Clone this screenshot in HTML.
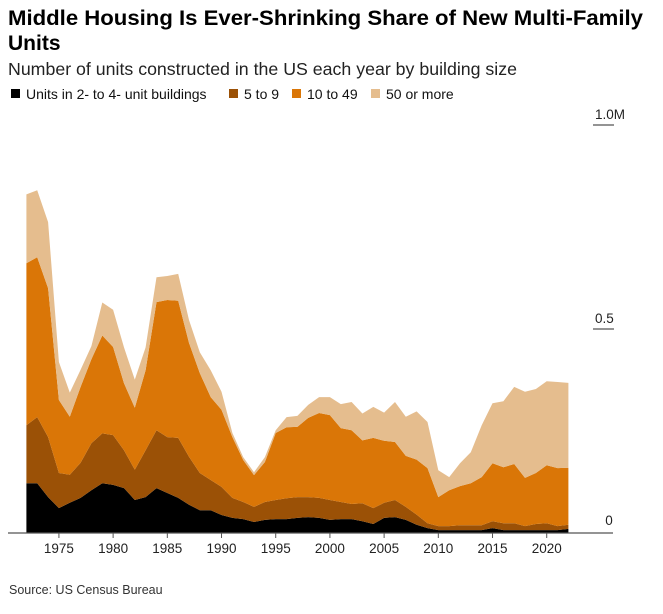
<!DOCTYPE html>
<html><head><meta charset="utf-8"><style>
body{margin:0;background:#fff;font-family:"Liberation Sans",Arial,sans-serif;}
#wrap{position:relative;width:663px;height:614px;overflow:hidden;}
</style></head><body>
<div id="wrap">
<svg id="chart" width="663" height="614">
<text x="8" y="25" font-size="21" font-weight="bold" fill="#000" textLength="635" lengthAdjust="spacingAndGlyphs">Middle Housing Is Ever-Shrinking Share of New Multi-Family</text>
<text x="8" y="50" font-size="21" font-weight="bold" fill="#000">Units</text>
<text x="8" y="75" font-size="17.5" fill="#222" textLength="509" lengthAdjust="spacingAndGlyphs">Number of units constructed in the US each year by building size</text>
<g id="legend"></g>
<g id="areas"></g>
<g id="axes"></g>
<text x="9" y="594" font-size="12.5" fill="#333">Source: US Census Bureau</text>
</svg>
</div>
<script>
const years=[1972,1973,1974,1975,1976,1977,1978,1979,1980,1981,1982,1983,1984,1985,1986,1987,1988,1989,1990,1991,1992,1993,1994,1995,1996,1997,1998,1999,2000,2001,2002,2003,2004,2005,2006,2007,2008,2009,2010,2011,2012,2013,2014,2015,2016,2017,2018,2019,2020,2021,2022];
const units2to4=[122,122,88,61,74,86,105,122,118,110,81,88,110,98,86,69,56,56,44,37,34,27,32,34,34,37,39,37,32,34,34,29,22,37,39,32,20,12,7,7,7,7,7,12,7,7,7,7,7,7,10];
const units5to9=[142,162,147,86,69,86,115,122,122,93,74,115,142,137,147,118,91,74,69,49,42,37,44,47,51,51,49,49,49,42,37,44,39,37,42,32,25,12,10,10,12,12,12,17,17,17,10,15,17,10,10];
const units10to49=[397,392,365,179,142,186,206,240,216,164,152,196,314,336,336,279,245,203,189,149,103,78,98,164,174,172,194,208,208,181,181,154,172,152,142,125,135,135,71,88,96,103,118,142,137,145,118,125,142,142,140];
const units50plus=[169,164,162,93,59,42,32,81,91,88,69,56,61,59,66,56,51,66,44,10,7,7,12,7,25,27,32,39,44,59,69,66,76,69,98,96,118,113,66,32,56,76,127,147,162,189,211,206,206,211,208];
const xTicks=[1975,1980,1985,1990,1995,2000,2005,2010,2015,2020];
const yTicks=[0,500,1000];
const yTickLabels=["0","0.5","1.0M"];
const seriesNames=["Units in 2- to 4- unit buildings","5 to 9","10 to 49","50 or more"];
const colors=["#000000","#9b5106","#da7607","#e5bd8e"];
const NS="http://www.w3.org/2000/svg";
const xScale=y=>26.4+(y-1972)*10.84;
const yScale=v=>533-v*0.408;
function mk(tag,attrs,parent){const e=document.createElementNS(NS,tag);for(const k in attrs)e.setAttribute(k,attrs[k]);parent.appendChild(e);return e;}
const series=[units2to4,units5to9,units10to49,units50plus];
const areas=document.getElementById('areas');
let base=years.map(()=>0);
series.forEach((s,i)=>{
  const top=base.map((b,j)=>b+s[j]);
  let d=years.map((y,j)=>(j?'L':'M')+xScale(y).toFixed(1)+','+yScale(top[j]).toFixed(1)).join('');
  for(let j=years.length-1;j>=0;j--)d+='L'+xScale(years[j]).toFixed(1)+','+yScale(base[j]).toFixed(1);
  const p=mk('path',{d:d+'Z',fill:colors[i]},areas);
  
  
  base=top;
});
const axes=document.getElementById('axes');
const bl=mk('line',{x1:8,x2:613,y1:533,y2:533,stroke:'#555','stroke-width':1.3},axes);


xTicks.forEach(t=>{
  const x=xScale(t);
  const l=mk('line',{x1:x,x2:x,y1:533,y2:538,stroke:'#555'},axes);
  
  
  const tx=mk('text',{x:x,y:553,'font-size':13.5,'text-anchor':'middle',fill:'#222'},axes);
  tx.textContent=t;
  
  
});
yTicks.forEach((v,i)=>{
  const y=yScale(v);
  if(v>0){
    const l=mk('line',{x1:593,x2:614,y1:y,y2:y,stroke:'#555','stroke-width':1.3},axes);
    
    
  }
  const tx=mk('text',{x:v===0?609:595,y:v===0?y-8:y-6,'font-size':13.5,'text-anchor':v===0?'middle':'start',fill:'#222'},axes);
  tx.textContent=yTickLabels[i];
  
  
});
const lg=document.getElementById('legend');
const lx=[11,229,292,371];
seriesNames.forEach((n,i)=>{
  const r=mk('rect',{x:lx[i],y:89,width:9,height:9,fill:colors[i]},lg);
  
  
  const t=mk('text',{x:lx[i]+15,y:99,'font-size':14,fill:'#111'},lg);
  t.textContent=n;
  
  
});
</script>
</body></html>
